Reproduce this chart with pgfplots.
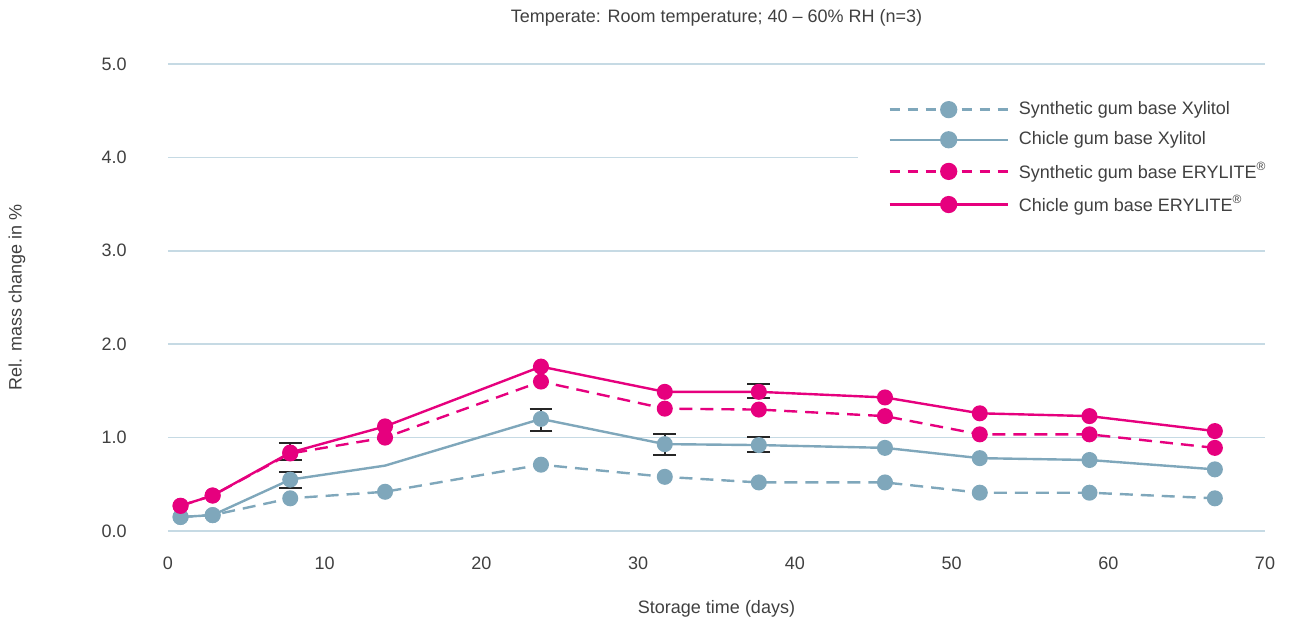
\documentclass[border=0pt]{standalone}
\usepackage{fontspec}
\setmainfont{Liberation Sans}
\usepackage{pgfplots}
\pgfplotsset{compat=1.18}
\definecolor{cblue}{HTML}{7FA7BB}
\definecolor{cpink}{HTML}{E6007E}
\definecolor{cgrid}{HTML}{C6DAE4}
\definecolor{ctext}{HTML}{404040}
\begin{document}
\fontsize{9pt}{11pt}\selectfont
\begin{tikzpicture}
\begin{axis}[name=ax, scale only axis, width=548.5pt, height=233.5pt,
  xmin=0, xmax=70, ymin=0, ymax=5,
  axis line style={draw=none},
  xtick={0,10,...,70}, ytick={0,1,...,5},
  major tick length=0pt,
  ymajorgrids, grid style={cgrid, line width=0.8pt},
  /pgf/number format/assume math mode=true,
  ticklabel style={color=ctext},
  y tick label style={/pgf/number format/fixed, /pgf/number format/fixed zerofill, /pgf/number format/precision=1, xshift=-17.5pt},
  x tick label style={anchor=center, yshift=-16pt},
  title={Temperate: Room temperature; 40 -- 60\% RH (n=3)},
  title style={at={(axis description cs:0.5,1)}, anchor=center, yshift=17pt, color=ctext},
  xlabel={Storage time (days)},
  xlabel style={at={(axis description cs:0.5,0)}, anchor=center, yshift=-39pt, color=ctext},
  ylabel={Rel. mass change in \%},
  ylabel style={at={(axis description cs:-0.1377,0.5)}, anchor=center, color=ctext},
  legend image code/.code={\draw[mark repeat=2,mark phase=2,#1] plot coordinates {(0pt,0pt)(29.5pt,0pt)(59pt,0pt)}; \path (64pt,0pt);},
  legend cell align=left,
  legend style={at={(axis cs:45.95,4.6)}, anchor=north west, draw=none, fill=none, inner sep=0pt, row sep=7.2pt, nodes={inner sep=0pt, text=ctext}},
]
\fill[white] (axis cs:44.0,4.55) rectangle (axis cs:70,3.3);

% error bars
\addplot[draw=none, forget plot, error bars/.cd, y dir=both, y explicit,
  error bar style={draw=black!85, line width=1pt},
  error mark options={rotate=90, draw=black!85, mark size=5.7pt, line width=1pt}]
  coordinates {
  (7.8,0.85) +- (0,0.09)
  (7.8,0.545) +- (0,0.085)
  (23.8,1.19) +- (0,0.12)
  (31.7,0.925) +- (0,0.115)
  (37.7,0.93) +- (0,0.08)
  (37.7,1.495) +- (0,0.075)
  };

% Synthetic gum base Xylitol
\addplot[cblue, line width=1.2pt, dash pattern=on 6.5pt off 4pt, mark=*, mark size=3.4pt, mark options={solid, fill=cblue, draw=cblue}, forget plot]
  coordinates {(0.8,0.15)(2.85,0.17)(7.8,0.35)(13.85,0.42)(23.8,0.71)(31.7,0.58)(37.7,0.52)(45.75,0.52)(51.8,0.41)(58.8,0.41)(66.8,0.35)};
% Chicle gum base Xylitol
\addplot[cblue, line width=1.2pt, mark=*, mark size=3.4pt, mark options={solid, fill=cblue, draw=cblue}, mark indices={1,2,3,5,6,7,8,9,10,11}, forget plot]
  coordinates {(0.8,0.15)(2.85,0.17)(7.8,0.55)(13.85,0.70)(23.8,1.20)(31.7,0.93)(37.7,0.92)(45.75,0.89)(51.8,0.78)(58.8,0.76)(66.8,0.66)};
% Synthetic gum base ERYLITE
\addplot[cpink, line width=1.2pt, dash pattern=on 6.5pt off 4pt, mark=*, mark size=3.4pt, mark options={solid, fill=cpink, draw=cpink}, forget plot]
  coordinates {(0.8,0.27)(2.85,0.38)(7.8,0.83)(13.85,1.00)(23.8,1.60)(31.7,1.31)(37.7,1.30)(45.75,1.23)(51.8,1.035)(58.8,1.035)(66.8,0.89)};
% Chicle gum base ERYLITE
\addplot[cpink, line width=1.2pt, mark=*, mark size=3.4pt, mark options={solid, fill=cpink, draw=cpink}, forget plot]
  coordinates {(0.8,0.27)(2.85,0.38)(7.8,0.84)(13.85,1.12)(23.8,1.76)(31.7,1.49)(37.7,1.49)(45.75,1.43)(51.8,1.26)(58.8,1.23)(66.8,1.07)};

\addlegendimage{cblue, line width=1.2pt, dash pattern=on 5pt off 4pt, mark=*, mark size=3.7pt, mark options={solid, fill=cblue, draw=cblue}}
\addlegendentry{Synthetic gum base Xylitol}
\addlegendimage{cblue, line width=1.2pt, mark=*, mark size=3.7pt, mark options={solid, fill=cblue, draw=cblue}}
\addlegendentry{Chicle gum base Xylitol}
\addlegendimage{cpink, line width=1.2pt, dash pattern=on 5pt off 4pt, mark=*, mark size=3.7pt, mark options={solid, fill=cpink, draw=cpink}}
\addlegendentry{Synthetic gum base ERYLITE\textsuperscript{®}}
\addlegendimage{cpink, line width=1.2pt, mark=*, mark size=3.7pt, mark options={solid, fill=cpink, draw=cpink}}
\addlegendentry{Chicle gum base ERYLITE\textsuperscript{®}}
\end{axis}
\pgfresetboundingbox
\path ([xshift=-84pt,yshift=-45pt]ax.south west) rectangle ([xshift=12.5pt,yshift=32pt]ax.north east);
\end{tikzpicture}
\end{document}
